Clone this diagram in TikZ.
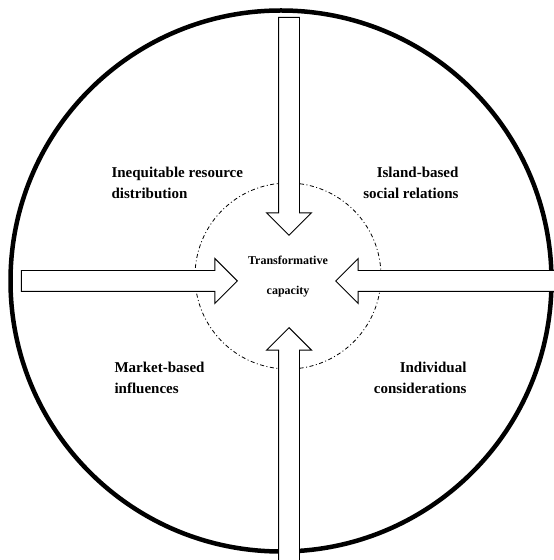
\documentclass[tikz,border=0pt]{standalone}
\usepackage{fontspec}
\setmainfont{Liberation Serif}
\usetikzlibrary{shapes.arrows}
\begin{document}
\begin{tikzpicture}[
  x=1pt, y=1pt,
  ring/.style={circle, draw, line width=4.5pt, minimum size=541pt, inner sep=0pt},
  core/.style={circle, draw, dash pattern=on 4pt off 2.5pt on 1pt off 2.5pt, line width=0.8pt, minimum size=186pt, inner sep=0pt},
  push/.style={single arrow, draw, fill=white, line width=0.9pt, inner xsep=0pt, inner ysep=10pt,
    single arrow head extend=12pt, anchor=tip},
  factor/.style={font=\fontsize{15}{21}\selectfont\bfseries},
  centre/.style={font=\fontsize{12}{30}\selectfont\bfseries, align=center}
]
  \useasboundingbox (0,0) rectangle (554,560);

  \node[ring] (outer) at (281,279) {};
  \node[core] (inner) at (288,284) {};

  % four pressures pointing inwards
  \node[push, minimum height=218pt, rotate=-90] (north) at (289,324) {};
  \node[push, minimum height=233pt, rotate=90]  (south) at (289,233) {};
  \node[push, minimum height=216pt]             (west)  at (238,279) {};
  \node[push, minimum height=219pt, rotate=180] (east)  at (335,279) {};

  \node[factor, anchor=west, align=left]  (tl) at (108,377) {Inequitable resource\\distribution};
  \node[factor, anchor=east, align=right] (tr) at (462,377) {Island-based\\social relations};
  \node[factor, anchor=west, align=left]  (bl) at (111,182) {Market-based\\influences};
  \node[factor, anchor=east, align=right] (br) at (470,182) {Individual\\considerations};

  \node[centre] (cap) at (288,283) {Transformative\\capacity};
\end{tikzpicture}
\end{document}
